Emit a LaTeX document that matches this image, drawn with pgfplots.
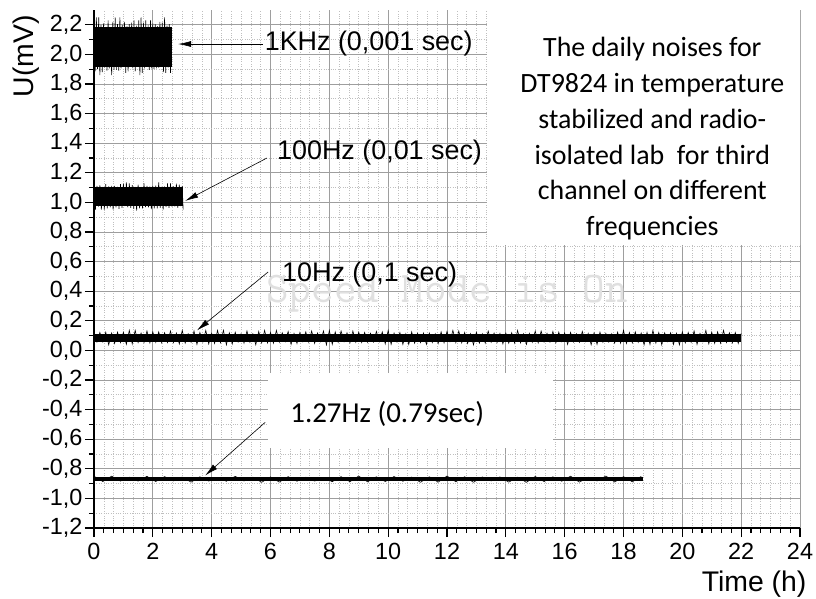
\documentclass[border=0pt]{standalone}
\usepackage{pgfplots}
\pgfplotsset{compat=1.18}
\usepackage{fontspec}
\setmainfont{Liberation Sans}
\newfontfamily\calibri{Carlito}
\usetikzlibrary{arrows.meta}
\begin{document}
\begin{tikzpicture}
\useasboundingbox (-94bp,-71bp) rectangle (722bp,528bp);
\begin{axis}[
  scale only axis, width=706bp, height=518bp,
  xmin=0, xmax=24, ymin=-1.2, ymax=2.3,
  axis x line*=bottom, axis y line*=left,
  axis line style={-, line width=1.3bp},
  xtick={0,2,4,6,8,10,12,14,16,18,20,22,24},
  ytick={-1.2,-1,-0.8,-0.6,-0.4,-0.2,0,0.2,0.4,0.6,0.8,1,1.2,1.4,1.6,1.8,2,2.2},
  minor x tick num=5, minor y tick num=1,
  tick align=outside, major tick length=9bp, minor tick length=5bp,
  tick style={black, line width=1.1bp},
  grid=both,
  major grid style={black!38, line width=0.9bp},
  minor grid style={black!25, dotted, line width=0.6bp},
  /pgf/number format/assume math mode=true,
  yticklabel style={font=\fontsize{23.5}{23.5}\selectfont, xshift=1bp, /pgf/number format/.cd, use comma, fixed, fixed zerofill, precision=1},
  xticklabel style={font=\fontsize{23.5}{23.5}\selectfont, yshift=-3bp, /pgf/number format/.cd, fixed, precision=0},
  xlabel={Time (h)}, ylabel={U(mV)},
  label style={font=\fontsize{28.5}{28.5}\selectfont},
  xlabel style={at={(axis description cs:0.935,-0.108)}, anchor=center},
  ylabel style={at={(axis description cs:-0.0963,0.911)}, anchor=center, rotate=0},
]
% white boxes behind annotations
\fill[white] (axis cs:13.37,0.71) rectangle (axis cs:24.5,2.4);
\fill[white] (axis cs:5.9,-0.155) rectangle (axis cs:15.6,-0.66);

% watermark
\node[text=black!12, font=\fontsize{44}{44}\selectfont\ttfamily] at (axis cs:12.0,0.385) {Speed Mode is On};

% ---------- 1 KHz (0,001 sec) ----------
\addplot[fill=black, draw=none] coordinates {(0,1.915)(2.64,1.915)(2.64,2.185)(0,2.185)} -- cycle;
\addplot[black, line width=0.6bp] coordinates {
(0,2.19)(0.04,1.885)(0.08,2.25)(0.12,1.90)(0.16,2.25)(0.20,1.86)(0.24,2.20)(0.28,1.88)(0.32,2.21)(0.36,1.91)
(0.40,2.185)(0.44,1.89)(0.48,2.23)(0.52,1.905)(0.56,2.185)(0.60,1.86)(0.64,2.22)(0.68,1.895)(0.72,2.25)(0.76,1.895)
(0.80,2.205)(0.84,1.89)(0.88,2.25)(0.92,1.905)(0.96,2.20)(1.00,1.915)(1.04,2.22)(1.08,1.875)(1.12,2.19)(1.16,1.885)
(1.20,2.205)(1.24,1.915)(1.28,2.215)(1.32,1.905)(1.36,2.23)(1.40,1.885)(1.44,2.195)(1.48,1.915)(1.52,2.23)(1.56,1.86)
(1.60,2.25)(1.64,1.875)(1.68,2.215)(1.72,1.905)(1.76,2.23)(1.80,1.915)(1.84,2.20)(1.88,1.895)(1.92,2.23)(1.96,1.905)
(2.00,2.21)(2.04,1.90)(2.08,2.205)(2.12,1.905)(2.16,2.19)(2.20,1.91)(2.24,2.22)(2.28,1.915)(2.32,2.215)(2.36,1.88)
(2.40,2.25)(2.44,1.875)(2.48,2.195)(2.52,1.91)(2.56,2.205)(2.60,1.875)(2.64,2.185)
};

% ---------- 100 Hz (0,01 sec) ----------
\addplot[fill=black, draw=none] coordinates {(0,0.975)(3.03,0.975)(3.03,1.105)(0,1.105)} -- cycle;
\addplot[black, line width=0.6bp] coordinates {
(0,1.135)(0.05,0.951)(0.10,1.111)(0.15,0.972)(0.20,1.117)(0.25,0.951)(0.30,1.105)(0.35,0.951)(0.40,1.123)(0.45,0.960)
(0.50,1.108)(0.55,0.966)(0.60,1.111)(0.65,0.951)(0.70,1.111)(0.75,0.966)(0.80,1.105)(0.85,0.957)(0.90,1.123)(0.95,0.963)
(1.00,1.126)(1.05,0.975)(1.10,1.135)(1.15,0.966)(1.20,1.129)(1.25,0.963)(1.30,1.117)(1.35,0.957)(1.40,1.105)(1.45,0.945)
(1.50,1.120)(1.55,0.960)(1.60,1.105)(1.65,0.960)(1.70,1.129)(1.75,0.969)(1.80,1.111)(1.85,0.966)(1.90,1.108)(1.95,0.954)
(2.00,1.111)(2.05,0.960)(2.10,1.114)(2.15,0.960)(2.20,1.135)(2.25,0.963)(2.30,1.105)(2.35,0.951)(2.40,1.108)(2.45,0.969)
(2.50,1.129)(2.55,0.963)(2.60,1.129)(2.65,0.972)(2.70,1.108)(2.75,0.972)(2.80,1.126)(2.85,0.963)(2.90,1.120)(2.95,0.975)
(3.00,1.111)(3.03,0.951)
};

% ---------- 10 Hz (0,1 sec) ----------
\addplot[fill=black, draw=none] coordinates {(0,0.058)(22,0.058)(22,0.114)(0,0.114)} -- cycle;
\addplot[black, line width=0.6bp] coordinates {
(0,0.119)(0.1,0.057)(0.2,0.121)(0.3,0.057)(0.4,0.123)(0.5,0.038)(0.6,0.117)(0.7,0.047)(0.8,0.123)(0.9,0.053)
(1.0,0.123)(1.1,0.041)(1.2,0.135)(1.3,0.044)(1.4,0.135)(1.5,0.053)(1.6,0.117)(1.7,0.053)(1.8,0.131)(1.9,0.051)
(2.0,0.125)(2.1,0.055)(2.2,0.125)(2.3,0.051)(2.4,0.119)(2.5,0.053)(2.6,0.131)(2.7,0.053)(2.8,0.117)(2.9,0.044)
(3.0,0.135)(3.1,0.049)(3.2,0.112)(3.3,0.055)(3.4,0.131)(3.5,0.041)(3.6,0.121)(3.7,0.057)(3.8,0.135)(3.9,0.044)
(4.0,0.115)(4.1,0.047)(4.2,0.135)(4.3,0.053)(4.4,0.135)(4.5,0.038)(4.6,0.119)(4.7,0.044)(4.8,0.123)(4.9,0.057)
(5.0,0.112)(5.1,0.049)(5.2,0.131)(5.3,0.055)(5.4,0.112)(5.5,0.038)(5.6,0.128)(5.7,0.051)(5.8,0.135)(5.9,0.051)
(6.0,0.121)(6.1,0.049)(6.2,0.135)(6.3,0.055)(6.4,0.119)(6.5,0.060)(6.6,0.128)(6.7,0.041)(6.8,0.115)(6.9,0.047)
(7.0,0.121)(7.1,0.060)(7.2,0.125)(7.3,0.055)(7.4,0.131)(7.5,0.047)(7.6,0.117)(7.7,0.060)(7.8,0.131)(7.9,0.038)
(8.0,0.135)(8.1,0.041)(8.2,0.125)(8.3,0.055)(8.4,0.131)(8.5,0.060)(8.6,0.119)(8.7,0.051)(8.8,0.131)(8.9,0.055)
(9.0,0.123)(9.1,0.053)(9.2,0.121)(9.3,0.055)(9.4,0.115)(9.5,0.057)(9.6,0.128)(9.7,0.060)(9.8,0.125)(9.9,0.044)
(10.0,0.135)(10.1,0.041)(10.2,0.117)(10.3,0.057)(10.4,0.121)(10.5,0.041)(10.6,0.112)(10.7,0.041)(10.8,0.125)(10.9,0.049)
(11.0,0.115)(11.1,0.053)(11.2,0.117)(11.3,0.041)(11.4,0.117)(11.5,0.053)(11.6,0.112)(11.7,0.047)(11.8,0.125)(11.9,0.051)
(12.0,0.128)(12.1,0.060)(12.2,0.135)(12.3,0.053)(12.4,0.131)(12.5,0.051)(12.6,0.121)(12.7,0.047)(12.8,0.112)(12.9,0.038)
(13.0,0.123)(13.1,0.049)(13.2,0.112)(13.3,0.049)(13.4,0.131)(13.5,0.055)(13.6,0.117)(13.7,0.053)(13.8,0.115)(13.9,0.044)
(14.0,0.117)(14.1,0.049)(14.2,0.119)(14.3,0.049)(14.4,0.135)(14.5,0.051)(14.6,0.112)(14.7,0.041)(14.8,0.115)(14.9,0.055)
(15.0,0.131)(15.1,0.051)(15.2,0.131)(15.3,0.057)(15.4,0.115)(15.5,0.057)(15.6,0.128)(15.7,0.051)(15.8,0.123)(15.9,0.060)
(16.0,0.117)(16.1,0.041)(16.2,0.121)(16.3,0.057)(16.4,0.112)(16.5,0.055)(16.6,0.128)(16.7,0.060)(16.8,0.115)(16.9,0.038)
(17.0,0.119)(17.1,0.041)(17.2,0.123)(17.3,0.055)(17.4,0.115)(17.5,0.057)(17.6,0.112)(17.7,0.049)(17.8,0.123)(17.9,0.049)
(18.0,0.135)(18.1,0.047)(18.2,0.121)(18.3,0.051)(18.4,0.125)(18.5,0.055)(18.6,0.117)(18.7,0.038)(18.8,0.121)(18.9,0.041)
(19.0,0.135)(19.1,0.049)(19.2,0.121)(19.3,0.038)(19.4,0.119)(19.5,0.060)(19.6,0.119)(19.7,0.041)(19.8,0.115)(19.9,0.038)
(20.0,0.125)(20.1,0.051)(20.2,0.121)(20.3,0.055)(20.4,0.131)(20.5,0.041)(20.6,0.115)(20.7,0.060)(20.8,0.135)(20.9,0.044)
(21.0,0.123)(21.1,0.047)(21.2,0.125)(21.3,0.049)(21.4,0.135)(21.5,0.053)(21.6,0.119)(21.7,0.051)(21.8,0.121)(21.9,0.047)
(22.0,0.115)
};

% ---------- 1.27 Hz (0.79 sec) ----------
\addplot[black, line width=3.5bp] coordinates {(0,-0.870)(18.65,-0.870)};
\addplot[black, line width=0.6bp] coordinates {
(0,-0.850)(0.3,-0.886)(0.6,-0.850)(0.9,-0.883)(1.2,-0.857)(1.5,-0.883)(1.8,-0.851)(2.1,-0.886)(2.4,-0.853)(2.7,-0.882)
(3.0,-0.856)(3.3,-0.890)(3.6,-0.854)(3.9,-0.883)(4.2,-0.858)(4.5,-0.884)(4.8,-0.851)(5.1,-0.882)(5.4,-0.857)(5.7,-0.891)
(6.0,-0.855)(6.3,-0.890)(6.6,-0.853)(6.9,-0.884)(7.2,-0.857)(7.5,-0.883)(7.8,-0.858)(8.1,-0.887)(8.4,-0.853)(8.7,-0.887)
(9.0,-0.849)(9.3,-0.888)(9.6,-0.854)(9.9,-0.886)(10.2,-0.852)(10.5,-0.884)(10.8,-0.856)(11.1,-0.891)(11.4,-0.854)(11.7,-0.890)
(12.0,-0.849)(12.3,-0.887)(12.6,-0.854)(12.9,-0.891)(13.2,-0.855)(13.5,-0.882)(13.8,-0.855)(14.1,-0.890)(14.4,-0.857)(14.7,-0.891)
(15.0,-0.852)(15.3,-0.886)(15.6,-0.854)(15.9,-0.884)(16.2,-0.850)(16.5,-0.890)(16.8,-0.857)(17.1,-0.882)(17.4,-0.849)(17.7,-0.889)
(18.0,-0.853)(18.3,-0.888)(18.6,-0.852)
};

% annotations
\draw[-{Latex[length=13bp,width=6bp]}, line width=0.6bp] (axis cs:5.74,2.07) -- (axis cs:2.86,2.07);
\node[anchor=west, inner sep=0pt, font=\fontsize{27}{27}\selectfont] at (axis cs:5.80,2.07) {1KHz (0,001 sec)};

\draw[-{Latex[length=13bp,width=6bp]}, line width=0.6bp] (axis cs:5.88,1.30) -- (axis cs:3.10,1.01);
\node[anchor=west, inner sep=0pt, font=\fontsize{27}{27}\selectfont] at (axis cs:6.22,1.34) {100Hz (0,01 sec)};

\draw[-{Latex[length=13bp,width=6bp]}, line width=0.6bp] (axis cs:5.92,0.53) -- (axis cs:3.50,0.135);
\node[anchor=west, inner sep=0pt, font=\fontsize{27}{27}\selectfont] at (axis cs:6.39,0.51) {10Hz (0,1 sec)};

\draw[-{Latex[length=13bp,width=6bp]}, line width=0.6bp] (axis cs:5.82,-0.486) -- (axis cs:3.78,-0.845);
\node[anchor=west, inner sep=0pt, font=\calibri\fontsize{29}{29}\selectfont] at (axis cs:6.67,-0.43) {1.27Hz (0.79sec)};

\node[align=center, font=\calibri\fontsize{28}{36}\selectfont] at (axis cs:18.98,1.43)
 {The daily noises for\\DT9824 in temperature\\stabilized and radio-\\isolated lab\ \ for third\\channel on different\\frequencies};
\end{axis}
\end{tikzpicture}
\end{document}
